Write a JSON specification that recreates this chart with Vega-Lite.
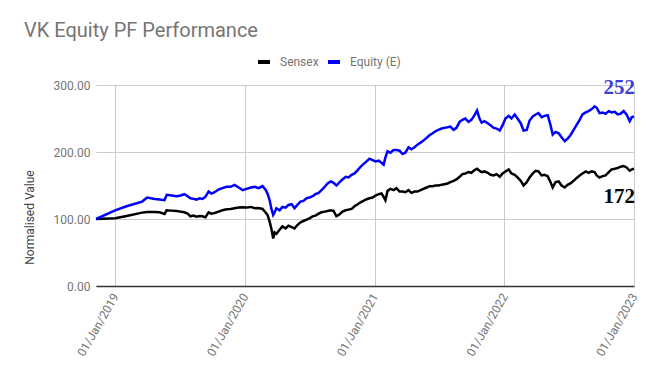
{
  "$schema": "https://vega.github.io/schema/vega-lite/v6.json",
  "width": 538,
  "height": 201,
  "autosize": {"type": "none"},
  "padding": {"left": 96, "top": 85, "right": 23, "bottom": 94},
  "background": "#ffffff",
  "config": {
    "font": "Roboto",
    "view": {"stroke": null}
  },
  "title": {
    "text": "VK Equity PF Performance",
    "anchor": "start",
    "frame": "group",
    "dx": -72,
    "offset": -3,
    "baseline": "alphabetic",
    "font": "Roboto",
    "fontSize": 20,
    "fontWeight": "normal",
    "color": "#757575"
  },
  "datasets": {
    "series": [
      {"d": "2018-11-08", "Sensex": 100, "Equity (E)": 100},
      {"d": "2019-01-01", "Sensex": 101, "Equity (E)": 113},
      {"d": "2019-02-02", "Sensex": 104.5, "Equity (E)": 119},
      {"d": "2019-03-18", "Sensex": 109.5, "Equity (E)": 126},
      {"d": "2019-04-01", "Sensex": 110.5, "Equity (E)": 132},
      {"d": "2019-04-22", "Sensex": 110.5, "Equity (E)": 130},
      {"d": "2019-05-06", "Sensex": 110, "Equity (E)": 129},
      {"d": "2019-05-20", "Sensex": 107.5, "Equity (E)": 128},
      {"d": "2019-05-26", "Sensex": 113, "Equity (E)": 136},
      {"d": "2019-06-09", "Sensex": 112.5, "Equity (E)": 135},
      {"d": "2019-06-23", "Sensex": 112, "Equity (E)": 134},
      {"d": "2019-07-04", "Sensex": 111, "Equity (E)": 135},
      {"d": "2019-07-15", "Sensex": 110, "Equity (E)": 137},
      {"d": "2019-07-24", "Sensex": 108, "Equity (E)": 134},
      {"d": "2019-08-01", "Sensex": 104, "Equity (E)": 131},
      {"d": "2019-08-10", "Sensex": 105, "Equity (E)": 130},
      {"d": "2019-08-18", "Sensex": 103.5, "Equity (E)": 129},
      {"d": "2019-08-27", "Sensex": 104.5, "Equity (E)": 131},
      {"d": "2019-09-04", "Sensex": 104, "Equity (E)": 130},
      {"d": "2019-09-12", "Sensex": 102.5, "Equity (E)": 133},
      {"d": "2019-09-21", "Sensex": 110, "Equity (E)": 141},
      {"d": "2019-09-29", "Sensex": 108, "Equity (E)": 138},
      {"d": "2019-10-08", "Sensex": 109, "Equity (E)": 140},
      {"d": "2019-10-19", "Sensex": 111, "Equity (E)": 144},
      {"d": "2019-10-30", "Sensex": 113, "Equity (E)": 146},
      {"d": "2019-11-11", "Sensex": 114.5, "Equity (E)": 148},
      {"d": "2019-11-22", "Sensex": 115, "Equity (E)": 148},
      {"d": "2019-12-03", "Sensex": 116, "Equity (E)": 151},
      {"d": "2019-12-15", "Sensex": 117, "Equity (E)": 147},
      {"d": "2019-12-26", "Sensex": 117.5, "Equity (E)": 143},
      {"d": "2020-01-06", "Sensex": 117, "Equity (E)": 145},
      {"d": "2020-01-18", "Sensex": 118, "Equity (E)": 147},
      {"d": "2020-01-29", "Sensex": 116, "Equity (E)": 148},
      {"d": "2020-02-09", "Sensex": 116.5, "Equity (E)": 146},
      {"d": "2020-02-20", "Sensex": 115, "Equity (E)": 149},
      {"d": "2020-02-28", "Sensex": 110, "Equity (E)": 144},
      {"d": "2020-03-05", "Sensex": 106, "Equity (E)": 138},
      {"d": "2020-03-11", "Sensex": 96, "Equity (E)": 128},
      {"d": "2020-03-16", "Sensex": 85, "Equity (E)": 115},
      {"d": "2020-03-21", "Sensex": 71, "Equity (E)": 106},
      {"d": "2020-03-25", "Sensex": 80, "Equity (E)": 110},
      {"d": "2020-03-30", "Sensex": 78, "Equity (E)": 116},
      {"d": "2020-04-08", "Sensex": 84, "Equity (E)": 113},
      {"d": "2020-04-16", "Sensex": 89, "Equity (E)": 118},
      {"d": "2020-04-25", "Sensex": 86, "Equity (E)": 117},
      {"d": "2020-05-03", "Sensex": 90, "Equity (E)": 121},
      {"d": "2020-05-12", "Sensex": 88, "Equity (E)": 122},
      {"d": "2020-05-20", "Sensex": 86, "Equity (E)": 116},
      {"d": "2020-05-28", "Sensex": 91, "Equity (E)": 121},
      {"d": "2020-06-06", "Sensex": 95, "Equity (E)": 126},
      {"d": "2020-06-14", "Sensex": 97, "Equity (E)": 127},
      {"d": "2020-06-23", "Sensex": 99, "Equity (E)": 131},
      {"d": "2020-07-01", "Sensex": 101, "Equity (E)": 132},
      {"d": "2020-07-10", "Sensex": 104, "Equity (E)": 134},
      {"d": "2020-07-18", "Sensex": 105, "Equity (E)": 137},
      {"d": "2020-07-27", "Sensex": 108, "Equity (E)": 139},
      {"d": "2020-08-04", "Sensex": 110, "Equity (E)": 143},
      {"d": "2020-08-13", "Sensex": 111, "Equity (E)": 148},
      {"d": "2020-08-21", "Sensex": 112, "Equity (E)": 153},
      {"d": "2020-08-30", "Sensex": 113, "Equity (E)": 156},
      {"d": "2020-09-07", "Sensex": 112, "Equity (E)": 154},
      {"d": "2020-09-15", "Sensex": 104, "Equity (E)": 150},
      {"d": "2020-09-24", "Sensex": 107, "Equity (E)": 155},
      {"d": "2020-10-02", "Sensex": 111, "Equity (E)": 159},
      {"d": "2020-10-11", "Sensex": 113, "Equity (E)": 163},
      {"d": "2020-10-19", "Sensex": 114, "Equity (E)": 162},
      {"d": "2020-10-28", "Sensex": 115, "Equity (E)": 166},
      {"d": "2020-11-05", "Sensex": 119, "Equity (E)": 168},
      {"d": "2020-11-14", "Sensex": 122, "Equity (E)": 173},
      {"d": "2020-11-22", "Sensex": 125, "Equity (E)": 178},
      {"d": "2020-11-30", "Sensex": 127, "Equity (E)": 182},
      {"d": "2020-12-09", "Sensex": 129.5, "Equity (E)": 186},
      {"d": "2020-12-17", "Sensex": 131, "Equity (E)": 190},
      {"d": "2020-12-26", "Sensex": 132, "Equity (E)": 188},
      {"d": "2021-01-03", "Sensex": 135, "Equity (E)": 186},
      {"d": "2021-01-12", "Sensex": 137, "Equity (E)": 187},
      {"d": "2021-01-20", "Sensex": 138, "Equity (E)": 184},
      {"d": "2021-01-26", "Sensex": 133, "Equity (E)": 181},
      {"d": "2021-01-31", "Sensex": 128, "Equity (E)": 192},
      {"d": "2021-02-06", "Sensex": 142, "Equity (E)": 201},
      {"d": "2021-02-14", "Sensex": 145, "Equity (E)": 199},
      {"d": "2021-02-23", "Sensex": 143, "Equity (E)": 203},
      {"d": "2021-03-03", "Sensex": 146, "Equity (E)": 203},
      {"d": "2021-03-12", "Sensex": 141, "Equity (E)": 202},
      {"d": "2021-03-20", "Sensex": 141, "Equity (E)": 197},
      {"d": "2021-03-28", "Sensex": 140, "Equity (E)": 199},
      {"d": "2021-04-06", "Sensex": 143, "Equity (E)": 207},
      {"d": "2021-04-14", "Sensex": 139, "Equity (E)": 204},
      {"d": "2021-04-23", "Sensex": 141, "Equity (E)": 207},
      {"d": "2021-05-01", "Sensex": 141, "Equity (E)": 211},
      {"d": "2021-05-10", "Sensex": 143, "Equity (E)": 214},
      {"d": "2021-05-18", "Sensex": 145, "Equity (E)": 217},
      {"d": "2021-05-27", "Sensex": 147, "Equity (E)": 221},
      {"d": "2021-06-04", "Sensex": 149, "Equity (E)": 225},
      {"d": "2021-06-13", "Sensex": 149, "Equity (E)": 228},
      {"d": "2021-06-21", "Sensex": 150, "Equity (E)": 231},
      {"d": "2021-06-29", "Sensex": 150, "Equity (E)": 233},
      {"d": "2021-07-08", "Sensex": 151, "Equity (E)": 235},
      {"d": "2021-07-16", "Sensex": 152, "Equity (E)": 236},
      {"d": "2021-07-25", "Sensex": 153, "Equity (E)": 237},
      {"d": "2021-08-02", "Sensex": 155, "Equity (E)": 238},
      {"d": "2021-08-11", "Sensex": 157, "Equity (E)": 233},
      {"d": "2021-08-19", "Sensex": 159, "Equity (E)": 236},
      {"d": "2021-08-28", "Sensex": 163, "Equity (E)": 245},
      {"d": "2021-09-05", "Sensex": 167, "Equity (E)": 248},
      {"d": "2021-09-13", "Sensex": 168, "Equity (E)": 250},
      {"d": "2021-09-22", "Sensex": 170, "Equity (E)": 245},
      {"d": "2021-09-30", "Sensex": 169, "Equity (E)": 248},
      {"d": "2021-10-09", "Sensex": 173, "Equity (E)": 255},
      {"d": "2021-10-16", "Sensex": 175, "Equity (E)": 262},
      {"d": "2021-10-23", "Sensex": 172, "Equity (E)": 250},
      {"d": "2021-10-29", "Sensex": 170, "Equity (E)": 244},
      {"d": "2021-11-06", "Sensex": 171, "Equity (E)": 246},
      {"d": "2021-11-15", "Sensex": 169, "Equity (E)": 243},
      {"d": "2021-11-23", "Sensex": 166, "Equity (E)": 240},
      {"d": "2021-12-02", "Sensex": 165, "Equity (E)": 236},
      {"d": "2021-12-10", "Sensex": 167, "Equity (E)": 235},
      {"d": "2021-12-19", "Sensex": 163, "Equity (E)": 232},
      {"d": "2021-12-27", "Sensex": 168, "Equity (E)": 240},
      {"d": "2022-01-04", "Sensex": 171, "Equity (E)": 250},
      {"d": "2022-01-13", "Sensex": 174, "Equity (E)": 254},
      {"d": "2022-01-21", "Sensex": 168, "Equity (E)": 250},
      {"d": "2022-01-30", "Sensex": 166, "Equity (E)": 256},
      {"d": "2022-02-07", "Sensex": 162, "Equity (E)": 250},
      {"d": "2022-02-16", "Sensex": 157, "Equity (E)": 243},
      {"d": "2022-02-24", "Sensex": 150, "Equity (E)": 232},
      {"d": "2022-03-05", "Sensex": 155, "Equity (E)": 233},
      {"d": "2022-03-13", "Sensex": 162, "Equity (E)": 247},
      {"d": "2022-03-22", "Sensex": 168, "Equity (E)": 253},
      {"d": "2022-03-30", "Sensex": 172, "Equity (E)": 256},
      {"d": "2022-04-07", "Sensex": 171, "Equity (E)": 258},
      {"d": "2022-04-16", "Sensex": 165, "Equity (E)": 252},
      {"d": "2022-04-24", "Sensex": 166, "Equity (E)": 254},
      {"d": "2022-05-03", "Sensex": 164, "Equity (E)": 255},
      {"d": "2022-05-11", "Sensex": 155, "Equity (E)": 240},
      {"d": "2022-05-17", "Sensex": 147, "Equity (E)": 226},
      {"d": "2022-05-25", "Sensex": 155, "Equity (E)": 230},
      {"d": "2022-06-03", "Sensex": 156, "Equity (E)": 228},
      {"d": "2022-06-11", "Sensex": 150, "Equity (E)": 222},
      {"d": "2022-06-20", "Sensex": 147, "Equity (E)": 216},
      {"d": "2022-06-28", "Sensex": 151, "Equity (E)": 220},
      {"d": "2022-07-06", "Sensex": 153, "Equity (E)": 225},
      {"d": "2022-07-15", "Sensex": 157, "Equity (E)": 233},
      {"d": "2022-07-23", "Sensex": 161, "Equity (E)": 240},
      {"d": "2022-08-01", "Sensex": 165, "Equity (E)": 248},
      {"d": "2022-08-09", "Sensex": 168, "Equity (E)": 256},
      {"d": "2022-08-18", "Sensex": 171, "Equity (E)": 259},
      {"d": "2022-08-26", "Sensex": 169, "Equity (E)": 261},
      {"d": "2022-09-04", "Sensex": 171, "Equity (E)": 264},
      {"d": "2022-09-12", "Sensex": 170, "Equity (E)": 268},
      {"d": "2022-09-18", "Sensex": 165, "Equity (E)": 266},
      {"d": "2022-09-26", "Sensex": 162, "Equity (E)": 258},
      {"d": "2022-10-05", "Sensex": 164, "Equity (E)": 259},
      {"d": "2022-10-13", "Sensex": 165, "Equity (E)": 257},
      {"d": "2022-10-22", "Sensex": 170, "Equity (E)": 261},
      {"d": "2022-10-30", "Sensex": 174, "Equity (E)": 259},
      {"d": "2022-11-08", "Sensex": 175, "Equity (E)": 260},
      {"d": "2022-11-16", "Sensex": 176, "Equity (E)": 256},
      {"d": "2022-11-24", "Sensex": 178, "Equity (E)": 257},
      {"d": "2022-12-03", "Sensex": 179, "Equity (E)": 261},
      {"d": "2022-12-11", "Sensex": 177, "Equity (E)": 256},
      {"d": "2022-12-20", "Sensex": 172, "Equity (E)": 246},
      {"d": "2022-12-26", "Sensex": 174, "Equity (E)": 252},
      {"d": "2023-01-01", "Sensex": 175, "Equity (E)": 253}
    ],
    "notes": [
      {"d": "2023-01-01", "label": "252", "series": "Equity (E)", "pos": 296},
      {"d": "2023-01-01", "label": "172", "series": "Sensex", "pos": 133}
    ]
  },
  "layer": [
    {
      "data": {"name": "series"},
      "transform": [{"fold": ["Sensex", "Equity (E)"], "as": ["series", "value"]}],
      "mark": {"type": "line", "strokeWidth": 2.5, "clip": false},
      "encoding": {
        "x": {
          "field": "d",
          "type": "temporal",
          "scale": {
            "type": "utc",
            "domain": [
              {"year": 2018, "month": 11, "date": 8, "utc": true},
              {"year": 2023, "month": 1, "date": 1, "utc": true}
            ]
          },
          "axis": {
            "title": null,
            "values": [
              {"year": 2019, "month": 1, "date": 1, "utc": true},
              {"year": 2020, "month": 1, "date": 1, "utc": true},
              {"year": 2021, "month": 1, "date": 1, "utc": true},
              {"year": 2022, "month": 1, "date": 1, "utc": true},
              {"year": 2023, "month": 1, "date": 1, "utc": true}
            ],
            "format": "%d/%b/%Y",
            "labelAngle": -60,
            "labelFontSize": 12,
            "labelColor": "#757575",
            "labelFont": "Roboto",
            "labelPadding": 8,
            "ticks": false,
            "grid": true,
            "gridColor": "#cccccc",
            "gridWidth": 1,
            "domain": true,
            "domainColor": "#333333",
            "domainWidth": 1.5,
            "labelOverlap": false,
            "labelBound": false
          }
        },
        "y": {
          "field": "value",
          "type": "quantitative",
          "scale": {"domain": [0, 300], "nice": false, "zero": true},
          "axis": {
            "title": "Normalised Value",
            "titleFont": "Roboto",
            "titleFontSize": 12,
            "titleFontWeight": "normal",
            "titleColor": "#444444",
            "titleX": -67,
            "titleY": 132,
            "titleAngle": 270,
            "titleAlign": "center",
            "titleBaseline": "middle",
            "values": [0, 100, 200, 300],
            "format": ".2f",
            "labelFontSize": 12,
            "labelColor": "#757575",
            "labelFont": "Roboto",
            "labelPadding": 6,
            "ticks": false,
            "domain": false,
            "grid": true,
            "gridColor": "#cccccc",
            "gridWidth": 1
          }
        },
        "color": {
          "field": "series",
          "type": "nominal",
          "scale": {"domain": ["Sensex", "Equity (E)"], "range": ["#000000", "#0000ff"]},
          "legend": {
            "title": null,
            "orient": "none",
            "direction": "horizontal",
            "legendX": 160,
            "legendY": -31,
            "padding": 0,
            "symbolType": "stroke",
            "symbolStrokeWidth": 4,
            "symbolSize": 144,
            "labelFont": "Roboto",
            "labelFontSize": 12,
            "labelColor": "#757575",
            "columnPadding": 1,
            "labelOffset": 8
          }
        }
      }
    },
    {
      "data": {"name": "notes"},
      "mark": {
        "type": "text",
        "align": "right",
        "baseline": "middle",
        "font": "Liberation Serif",
        "fontWeight": "bold",
        "fontSize": 21,
        "dx": 1
      },
      "encoding": {
        "x": {"field": "d", "type": "temporal"},
        "y": {"field": "pos", "type": "quantitative"},
        "text": {"field": "label", "type": "nominal"},
        "color": {"field": "series", "type": "nominal", "scale": {"domain": ["Sensex", "Equity (E)"], "range": ["#000000", "#3f3fd6"]}, "legend": null}
      }
    }
  ],
  "resolve": {"scale": {"color": "independent"}}
}
